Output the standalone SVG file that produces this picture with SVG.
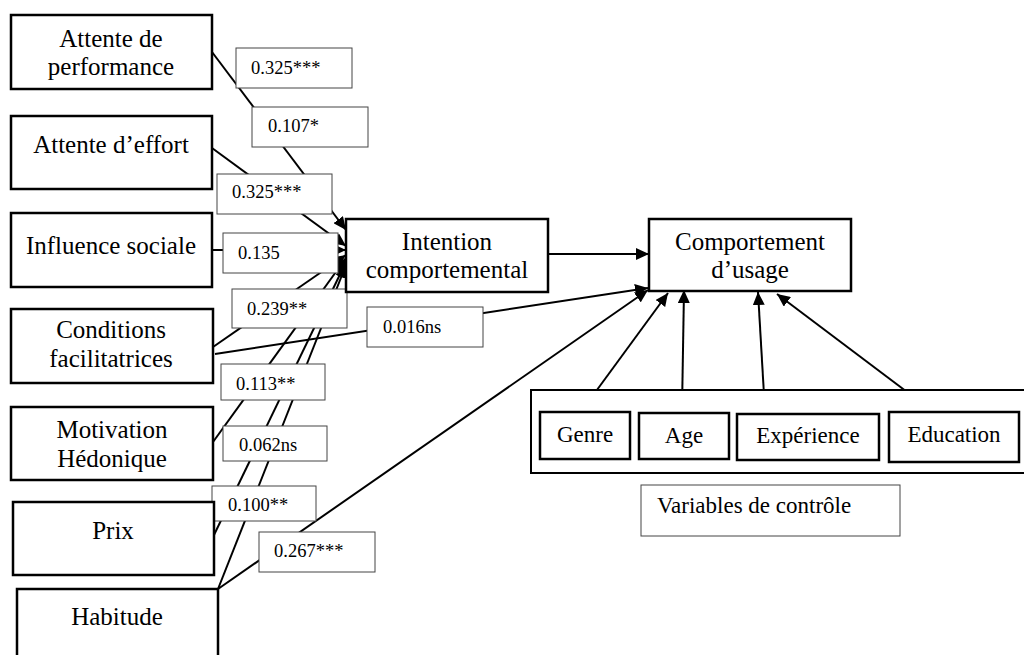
<svg xmlns="http://www.w3.org/2000/svg" width="1024" height="655" viewBox="0 0 1024 655">
<style>
.node{fill:#fff;stroke:#000;stroke-width:2.5}
.lbl{fill:#fff;stroke:#444;stroke-width:1}
.nt{font-family:'Liberation Serif','Times New Roman','DejaVu Serif',serif;font-size:25px;fill:#000;text-anchor:middle}
.ct{font-family:'Liberation Serif','Times New Roman','DejaVu Serif',serif;font-size:23px;fill:#000;text-anchor:middle}
.lt{font-family:'Liberation Serif','Times New Roman','DejaVu Serif',serif;font-size:18.5px;fill:#000}
.c{stroke:#000;stroke-width:2;fill:none}
</style>
<defs>
<marker id="ah" markerUnits="userSpaceOnUse" markerWidth="14" markerHeight="12" refX="13" refY="6" orient="auto">
<path d="M0,0 L13,6 L0,12 z" fill="#000"/>
</marker>
</defs>
<rect fill="#fff" x="0" y="0" width="1024" height="655"/>
<g id="connectors">
<line class="c" x1="212" y1="52" x2="346" y2="230" marker-end="url(#ah)"/>
<line class="c" x1="212" y1="148" x2="346" y2="246" marker-end="url(#ah)"/>
<line class="c" x1="212" y1="250" x2="346" y2="250" marker-end="url(#ah)"/>
<line class="c" x1="213" y1="347" x2="346" y2="255" marker-end="url(#ah)"/>
<line class="c" x1="213" y1="442" x2="346" y2="258" marker-end="url(#ah)"/>
<line class="c" x1="213" y1="537" x2="346" y2="262" marker-end="url(#ah)"/>
<line class="c" x1="218" y1="589" x2="346" y2="265" marker-end="url(#ah)"/>
<line class="c" x1="548" y1="254" x2="649" y2="254" marker-end="url(#ah)"/>
<line class="c" x1="215" y1="354" x2="648" y2="288" marker-end="url(#ah)"/>
<line class="c" x1="218" y1="589" x2="648" y2="290" marker-end="url(#ah)"/>
<line class="c" x1="583" y1="409" x2="668" y2="293" marker-end="url(#ah)"/>
<line class="c" x1="682" y1="409" x2="684" y2="290" marker-end="url(#ah)"/>
<line class="c" x1="765" y1="412" x2="758" y2="292" marker-end="url(#ah)"/>
<line class="c" x1="931" y1="410" x2="777" y2="294" marker-end="url(#ah)"/>
</g>
<g id="labels">
<rect class="lbl" x="236" y="48" width="116" height="40"/><text class="lt" x="251" y="74">0.325***</text>
<rect class="lbl" x="252" y="107" width="116" height="40"/><text class="lt" x="268" y="132">0.107*</text>
<rect class="lbl" x="217" y="174" width="115" height="40"/><text class="lt" x="232" y="198">0.325***</text>
<rect class="lbl" x="223" y="233" width="115" height="40"/><text class="lt" x="238" y="259">0.135</text>
<rect class="lbl" x="232" y="289" width="115" height="39"/><text class="lt" x="247" y="315">0.239**</text>
<rect class="lbl" x="367" y="307" width="116" height="40"/><text class="lt" x="383" y="333">0.016ns</text>
<rect class="lbl" x="221" y="364" width="104" height="36"/><text class="lt" x="236" y="390">0.113**</text>
<rect class="lbl" x="223" y="426" width="104" height="35"/><text class="lt" x="239" y="451">0.062ns</text>
<rect class="lbl" x="212" y="486" width="104" height="35"/><text class="lt" x="228" y="511">0.100**</text>
<rect class="lbl" x="259" y="532" width="116" height="40"/><text class="lt" x="274" y="557">0.267***</text>
</g>
<g id="n-perf"><rect class="node" x="11" y="15" width="201" height="74"/><text class="nt" x="111" y="47">Attente de</text><text class="nt" x="111" y="75">performance</text></g>
<g id="n-effort"><rect class="node" x="11" y="116" width="201" height="73"/><text class="nt" x="111" y="153">Attente d’effort</text></g>
<g id="n-social"><rect class="node" x="11" y="213" width="201" height="74"/><text class="nt" x="111" y="254">Influence sociale</text></g>
<g id="n-cond"><rect class="node" x="11" y="309" width="202" height="74"/><text class="nt" x="111" y="338">Conditions</text><text class="nt" x="111" y="367">facilitatrices</text></g>
<g id="n-motiv"><rect class="node" x="11" y="407" width="202" height="73"/><text class="nt" x="112" y="438">Motivation</text><text class="nt" x="112" y="467">Hédonique</text></g>
<g id="n-prix"><rect class="node" x="13" y="502" width="201" height="73"/><text class="nt" x="113" y="539">Prix</text></g>
<g id="n-habit"><rect class="node" x="17" y="589" width="201" height="80"/><text class="nt" x="117" y="625">Habitude</text></g>
<g id="n-intention"><rect class="node" x="346" y="219" width="202" height="73"/><text class="nt" x="447" y="250">Intention</text><text class="nt" x="447" y="278">comportemental</text></g>
<g id="n-usage"><rect class="node" x="649" y="219" width="202" height="72"/><text class="nt" x="750" y="250">Comportement</text><text class="nt" x="750" y="278">d’usage</text></g>
<g id="n-control"><rect fill="#fff" stroke="#000" stroke-width="2" x="531" y="390" width="500" height="83"/></g>
<g id="n-genre"><rect class="node" x="540" y="412" width="90" height="47"/><text class="ct" x="585" y="442">Genre</text></g>
<g id="n-age"><rect class="node" x="639" y="413" width="90" height="46"/><text class="ct" x="684" y="443">Age</text></g>
<g id="n-exp"><rect class="node" x="737" y="414" width="142" height="46"/><text class="ct" x="808" y="443">Expérience</text></g>
<g id="n-edu"><rect class="node" x="889" y="412" width="130" height="50"/><text class="ct" x="954" y="442">Education</text></g>
<g id="n-varlabel"><rect class="lbl" x="641" y="485" width="259" height="51"/><text class="ct" x="657" y="513" style="text-anchor:start">Variables de contrôle</text></g>
</svg>
